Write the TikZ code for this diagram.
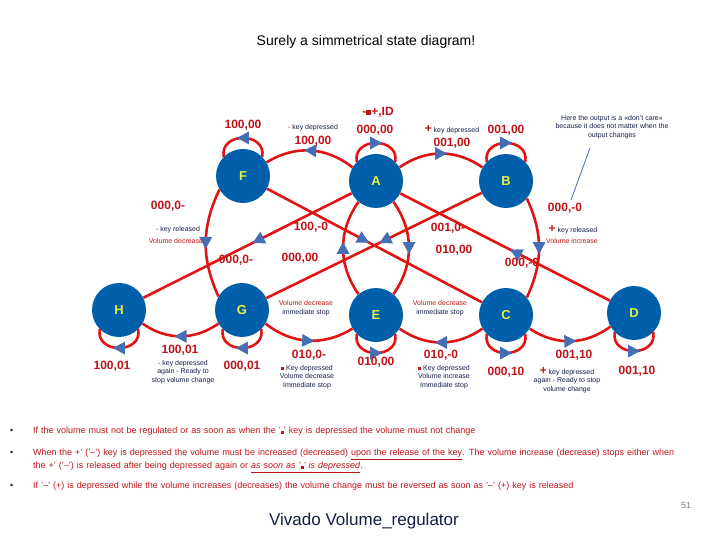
\documentclass[tikz,border=0pt]{standalone}
\usepackage{fontspec}
\setmainfont{Liberation Sans}
\usetikzlibrary{decorations.markings}
\definecolor{lred}{RGB}{225,20,20}
\definecolor{tred}{RGB}{190,20,25}
\definecolor{sblue}{RGB}{0,95,170}
\definecolor{ablue}{RGB}{70,110,180}
\definecolor{navy}{RGB}{20,30,70}
\definecolor{lgreen}{RGB}{230,240,60}
\tikzset{
 st/.style={circle,fill=sblue,minimum size=54pt,inner sep=0pt,text=lgreen,font=\fontsize{13}{13}\selectfont\bfseries},
 tr/.style={draw=lred,line width=2.6pt,postaction={decorate},decoration={markings,mark=at position #1 with {\fill[ablue] (6,0)--(-6,6.5)--(-6,-6.5)--cycle;}}},
 tr/.default=0.5,
 lab/.style={text=tred,font=\fontsize{12}{12}\selectfont\bfseries,inner sep=0pt},
 sm/.style={text=navy,font=\fontsize{7}{8.5}\selectfont,inner sep=0pt,align=center},
 smr/.style={text=tred,font=\fontsize{7}{8.5}\selectfont,inner sep=0pt,align=center},
 bul/.style={text=tred,font=\fontsize{9}{13}\selectfont,inner sep=0pt,anchor=north west,align=left,text width=652pt},
}
\begin{document}
\begin{tikzpicture}[x=1pt,y=1pt]
\useasboundingbox (0,0) rectangle (720,-540);
\node[font=\fontsize{14}{14}\selectfont] (title) at (366,-42) {Surely a simmetrical state diagram!};
\node[st] (F) at (243,-176) {F};
\node[st] (A) at (376,-181) {A};
\node[st] (B) at (506,-181) {B};
\node[st] (H) at (119,-310) {H};
\node[st] (G) at (242,-310) {G};
\node[st] (E) at (376,-315) {E};
\node[st] (C) at (506,-315) {C};
\node[st] (D) at (634,-313) {D};
% straight lines
\draw[tr=0.45] (A) -- (H);
\draw[tr=0.45] (F) -- (C);
\draw[tr=0.45] (B) -- (G);
\draw[tr=0.45] (D) -- (A);
% arcs
\draw[tr] (A.150) to[bend right=35] (F.30);
\draw[tr] (A.30) to[bend left=35] (B.150);
\draw[tr] (F.-150) to[bend right=25] (G.150);
\draw[tr] (A.-50) to[bend left=35] (E.50);
\draw[tr] (E.130) to[bend left=35] (A.-130);
\draw[tr] (B.-40) to[bend left=25] (C.40);
\draw[tr] (G.-150) to[bend left=35] (H.-30);
\draw[tr] (G.-30) to[bend right=35] (E.-150);
\draw[tr] (C.-150) to[bend left=35] (E.-30);
\draw[tr] (C.-30) to[bend right=35] (D.-150);
% self loops
\draw[tr] (F.45) to[out=80,in=100,looseness=1.7] (F.135);
\draw[tr] (A.135) to[out=100,in=80,looseness=1.7] (A.45);
\draw[tr] (B.135) to[out=100,in=80,looseness=1.7] (B.45);
\draw[tr] (H.-45) to[out=-80,in=-100,looseness=1.7] (H.-135);
\draw[tr] (G.-45) to[out=-80,in=-100,looseness=1.7] (G.-135);
\draw[tr] (E.-135) to[out=-100,in=-80,looseness=1.7] (E.-45);
\draw[tr] (C.-135) to[out=-100,in=-80,looseness=1.7] (C.-45);
\draw[tr] (D.-135) to[out=-100,in=-80,looseness=1.7] (D.-45);
% labels
\node[lab] (l1) at (243,-125) {100,00};
\node[sm] (l2) at (313,-128) {\textcolor{tred}{-}\ key depressed};
\node[lab] (l3) at (313,-141) {100,00};
\node[lab] (l4) at (378,-112) {-\textcolor{tred}{\rule{5pt}{5pt}}+,ID};
\node[lab] (l5) at (375,-130) {000,00};
\node[sm] (l6) at (452,-130) {\textcolor{tred}{\fontsize{12}{12}\selectfont\bfseries +}\ key depressed};
\node[lab] (l7) at (452,-143) {001,00};
\node[lab] (l8) at (506,-130) {001,00};
\node[sm] (l9) at (612,-127) {Here the output is a «don't care»\\because it does not matter when the\\output changes};
\draw[ablue,line width=0.8pt] (590,-148) -- (571,-200);
\node[lab] (l10) at (168,-206) {000,0-};
\node[lab] (l11) at (565,-208) {000,-0};
\node[smr] (l12) at (178,-230) {\textcolor{navy}{- key released}};
\node[smr] (l13) at (176,-241) {Volume decrease};
\node[lab] (l14) at (311,-227) {100,-0};
\node[lab] (l15) at (448,-228) {001,0-};
\node[sm] (l16) at (573,-230) {\textcolor{tred}{\fontsize{12}{12}\selectfont\bfseries +}\ key released};
\node[smr] (l17) at (572,-241) {Volume increase};
\node[lab] (l18) at (236,-260) {000,0-};
\node[lab] (l19) at (300,-258) {000,00};
\node[lab] (l20) at (454,-250) {010,00};
\node[lab] (l21) at (522,-263) {000,-0};
\node[smr] (l22) at (306,-308) {Volume decrease\\\textcolor{navy}{immediate stop}};
\node[smr] (l23) at (440,-308) {Volume decrease\\\textcolor{navy}{immediate stop}};
\node[lab] (l24) at (112,-366) {100,01};
\node[lab] (l25) at (180,-350) {100,01};
\node[sm] (l26) at (183,-372) {\textcolor{tred}{-}\ key depressed\\again - Ready to\\stop volume change};
\node[lab] (l27) at (242,-366) {000,01};
\node[lab] (l28) at (309,-355) {010,0-};
\node[sm] (l29) at (307,-377) {\textcolor{tred}{\rule{3pt}{3pt}}\ Key depressed\\Volume decrease\\Immediate stop};
\node[lab] (l30) at (376,-362) {010,00};
\node[lab] (l31) at (441,-355) {010,-0};
\node[sm] (l32) at (444,-377) {\textcolor{tred}{\rule{3pt}{3pt}}\ Key depressed\\Volume increase\\Immediate stop};
\node[lab] (l33) at (506,-372) {000,10};
\node[lab] (l34) at (574,-355) {001,10};
\node[sm] (l35) at (567,-380) {\textcolor{tred}{\fontsize{12}{12}\selectfont\bfseries +}\ key depressed\\again - Ready to stop\\volume change};
\node[lab] (l36) at (637,-371) {001,10};
% bullets
\node[bul] (b1) at (33,-427) {\makebox[0pt][r]{\textcolor{navy}{\textbullet}\hspace{20pt}}If the volume must not be regulated or as soon as when the '\rule{3pt}{3pt}' key is depressed the volume must not change};
\node[bul] (b2) at (33,-449) {\makebox[0pt][r]{\textcolor{navy}{\textbullet}\hspace{20pt}}When the +' ('--') key is depressed the volume must be increased (decreased) \underline{upon the release of the key}. The volume increase (decrease) stops either when the +' ('--') is released after being depressed again or \underline{\textit{as soon as '\rule{3pt}{3pt}' is depressed}}.};
\node[bul] (b3) at (33,-482) {\makebox[0pt][r]{\textcolor{navy}{\textbullet}\hspace{20pt}}If '--' (+) is depressed while the volume increases (decreases) the volume change must be reversed as soon as '--' (+) key is released};
\node[text=gray,font=\fontsize{9}{9}\selectfont] (pg) at (686,-505) {51};
\node[text=navy,font=\fontsize{17}{17}\selectfont] (ft) at (364,-521) {Vivado Volume\_regulator};
\end{tikzpicture}
\end{document}
